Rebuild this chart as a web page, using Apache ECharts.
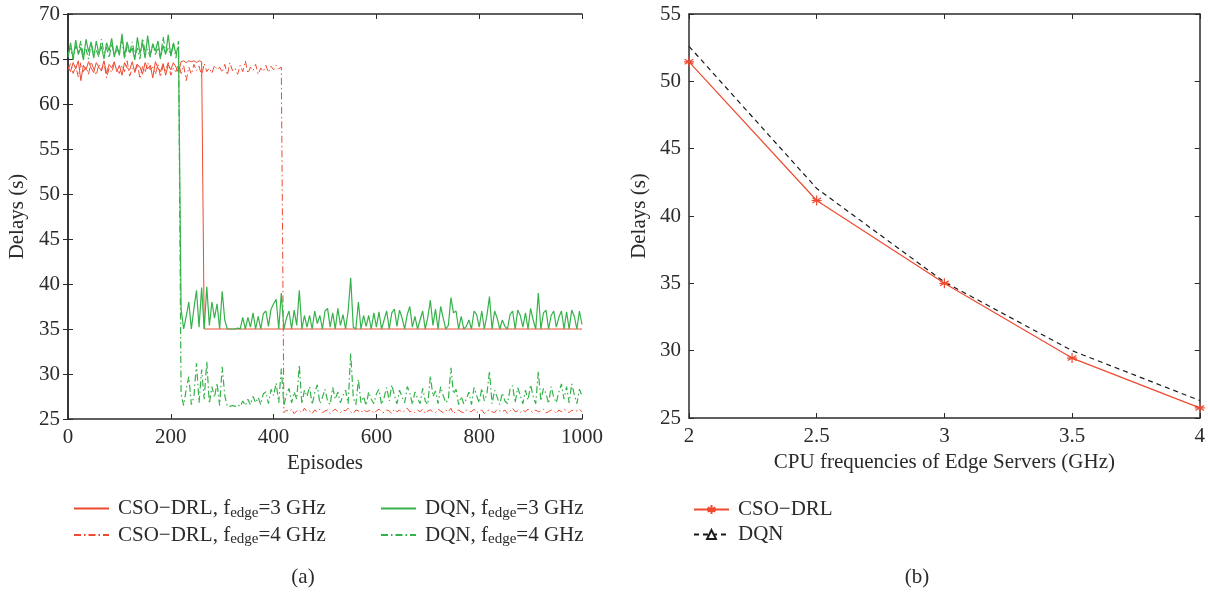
<!DOCTYPE html>
<html>
<head>
<meta charset="utf-8">
<script src="https://cdn.jsdelivr.net/npm/echarts@6/dist/echarts.min.js"></script>
<style>
html, body { margin: 0; padding: 0; background: #fff; }
#chart { width: 1208px; height: 593px; }
</style>
</head>
<body>
<div id="chart"></div>
<script>
// (a) delays per episode, one value every 5 episodes (0, 5, ..., 1000)
var csoF3 = [
    64.2, 63.6, 64.6, 63.9, 64.8, 62.6, 64.3, 63.8, 64.7, 64.0,
    63.5, 64.6, 64.1, 63.7, 64.8, 63.4, 64.4, 64.0, 64.7, 63.6,
    64.3, 63.2, 64.6, 64.0, 63.8, 64.7, 63.5, 64.4, 64.1, 63.3,
    64.6, 63.9, 64.3, 62.9, 64.7, 64.0, 63.6, 64.5, 63.2, 64.4,
    63.8, 64.6, 64.1, 63.5, 64.7, 64.8, 64.6, 64.8, 64.7, 64.8,
    64.6, 64.8, 64.7, 35, 35, 35, 35, 35, 35, 35,
    35, 35, 35, 35, 35, 35, 35, 35, 35, 35,
    35, 35, 35, 35, 35, 35, 35, 35, 35, 35,
    35, 35, 35, 35, 35, 35, 35, 35, 35, 35,
    35, 35, 35, 35, 35, 35, 35, 35, 35, 35,
    35, 35, 35, 35, 35, 35, 35, 35, 35, 35,
    35, 35, 35, 35, 35, 35, 35, 35, 35, 35,
    35, 35, 35, 35, 35, 35, 35, 35, 35, 35,
    35, 35, 35, 35, 35, 35, 35, 35, 35, 35,
    35, 35, 35, 35, 35, 35, 35, 35, 35, 35,
    35, 35, 35, 35, 35, 35, 35, 35, 35, 35,
    35, 35, 35, 35, 35, 35, 35, 35, 35, 35,
    35, 35, 35, 35, 35, 35, 35, 35, 35, 35,
    35, 35, 35, 35, 35, 35, 35, 35, 35, 35,
    35, 35, 35, 35, 35, 35, 35, 35, 35, 35,
    35
];
var csoF4 = [
    63.8, 64.5, 63.4, 64.2, 63.0, 64.6, 63.6, 64.1, 63.3, 64.7,
    63.9, 63.2, 64.4, 63.7, 64.6, 62.9, 64.0, 63.5, 64.5, 63.8,
    63.4, 64.3, 63.6, 64.8, 63.1, 64.0, 63.7, 64.5, 62.8, 64.2,
    63.5, 64.6, 63.8, 64.1, 63.3, 64.4, 63.0, 64.3, 63.7, 64.6,
    63.2, 64.0, 63.6, 64.5, 63.4, 64.3, 62.6, 64.1, 63.3, 64.4,
    63.7, 64.2, 63.1, 64.5, 63.6, 64.0, 63.4, 64.3, 63.8, 64.1,
    63.5, 64.4, 63.2, 64.6, 63.7, 64.0, 63.3, 64.3, 63.6, 64.8,
    63.4, 64.1, 63.7, 64.4, 63.3, 64.0, 63.6, 64.3, 63.5, 64.2,
    63.8, 64.3, 63.9, 64.1, 25.7, 26.0, 25.8, 26.1, 25.6, 25.9,
    26.0, 25.7, 26.2, 25.8, 25.9, 25.6, 26.0, 25.8, 26.1, 25.7,
    25.9, 26.0, 25.6, 25.9, 26.1, 25.8, 25.7, 26.0, 25.9, 26.2,
    25.8, 25.6, 26.0, 25.9, 25.7, 26.1, 25.8, 25.9, 26.0, 25.6,
    25.9, 26.1, 25.8, 25.7, 26.0, 25.9, 25.6, 26.1, 25.8, 26.0,
    25.7, 25.9, 26.2, 25.8, 25.9, 25.7, 26.0, 25.8, 26.1, 25.6,
    25.9, 26.0, 25.8, 25.7, 26.1, 25.9, 25.7, 26.0, 25.8, 26.2,
    25.6, 25.9, 26.0, 25.8, 25.7, 26.0, 25.9, 25.8, 26.1, 25.7,
    25.9, 26.0, 25.6, 25.9, 26.0, 25.8, 25.7, 26.1, 25.9, 25.8,
    26.0, 25.6, 25.9, 26.2, 25.8, 25.9, 25.7, 26.0, 25.8, 26.1,
    25.9, 25.7, 26.0, 25.8, 25.9, 26.1, 25.7, 25.8, 26.0, 25.9,
    25.6, 26.0, 25.8, 26.1, 25.9, 25.7, 26.0, 25.8, 25.9, 26.1,
    25.8
];
var dqnF3 = [
    65.2, 66.8, 65.0, 67.1, 65.5, 66.3, 64.9, 67.2, 65.8, 66.9,
    65.1, 67.0, 65.6, 66.4, 65.0, 66.8, 65.9, 67.3, 65.2, 66.5,
    65.4, 67.8, 65.3, 66.9, 65.7, 66.2, 64.9, 67.4, 65.6, 66.8,
    65.1, 67.6, 65.4, 66.6, 65.9, 67.0, 65.2, 66.5, 65.5, 67.7,
    65.3, 66.7, 65.6, 66.4, 37.2, 35, 36.4, 38.0, 35, 37.3,
    39.3, 35.2, 39.6, 35, 39.7, 35.4, 38.0, 36.2, 37.8, 35,
    39.2, 36.0, 35, 35, 35, 35, 35.1, 35, 36.3, 35,
    36.3, 35.2, 36.8, 35, 36.4, 35, 36.7, 37.0, 35.3, 37.2,
    37.8, 38.3, 35, 39.0, 35, 36.2, 37.0, 35, 37.1, 35.4,
    39.3, 35, 36.5, 35.2, 36.5, 35, 37.0, 35.6, 36.5, 35,
    37.0, 37.3, 35.2, 36.8, 35, 37.3, 35.4, 36.6, 35, 37.0,
    40.7, 35.2, 35, 38.0, 35, 36.5, 35.3, 36.5, 35, 36.8,
    35.2, 36.9, 35, 36.0, 37.0, 35, 36.8, 37.2, 35.3, 37.1,
    36.2, 35, 36.6, 37.5, 35.2, 36.4, 35, 36.0, 37.0, 35,
    36.3, 38.2, 35.4, 37.2, 35, 37.5, 36.2, 35, 35.4, 38.5,
    36.8, 37.0, 35, 36.4, 35, 35.3, 36.0, 35, 37.0, 36.6,
    35.2, 37.0, 35, 36.5, 38.6, 35, 37.0, 36.2, 35, 36.0,
    35.3, 35, 36.6, 37.0, 35, 37.1, 36.5, 35.2, 36.8, 35,
    37.3, 36.0, 35, 39.0, 35, 36.8, 37.1, 35, 36.5, 37.0,
    35.2, 36.3, 37.0, 35, 36.9, 35, 37.1, 36.4, 35, 37.0,
    35.5
];
var dqnF4 = [
    65.6, 66.2, 64.9, 66.5, 65.8, 67.0, 65.3, 66.1, 65.0, 66.7,
    65.5, 66.0, 65.2, 67.2, 65.7, 66.3, 65.1, 66.8, 65.4, 66.0,
    65.9, 67.1, 65.0, 66.4, 65.6, 66.9, 65.3, 66.2, 65.0, 67.3,
    65.8, 66.1, 65.2, 66.7, 65.5, 66.3, 65.0, 67.5, 65.7, 66.2,
    65.4, 66.9, 65.1, 67.0, 27.8, 26.5, 28.3, 29.7, 26.6, 27.5,
    31.2, 26.8, 30.5, 27.2, 31.4, 26.7, 28.6, 27.4, 29.0, 26.5,
    30.8, 27.6, 26.4, 26.4, 26.5, 26.4, 26.6, 26.4, 27.0, 26.5,
    27.2, 26.6, 27.5, 26.8, 27.4, 26.6, 27.8, 28.0, 26.7, 28.3,
    27.6, 29.0, 26.8, 30.6, 26.5, 27.7, 28.4, 26.8, 28.0, 27.2,
    31.0, 26.7, 28.2, 27.5, 28.6, 26.6, 27.9, 28.8, 26.7, 27.4,
    28.3, 27.0, 26.6, 28.5, 27.2, 28.0, 26.8, 27.6, 28.2, 26.7,
    32.3, 27.4, 26.6, 29.4, 26.8, 27.5, 26.5, 28.0, 27.2, 26.7,
    27.8, 28.3, 26.6, 27.4, 28.5, 27.0, 28.8, 27.6, 26.7, 28.2,
    27.4, 26.8, 28.6, 27.9, 26.6, 28.0, 27.3, 26.7, 28.4, 27.0,
    26.6, 29.8, 27.5, 28.1, 26.7, 28.6, 27.6, 26.8, 27.2, 30.7,
    27.8, 28.3, 26.6, 27.5, 26.7, 27.2, 28.0, 26.6, 28.5, 27.6,
    26.8, 28.4, 27.0, 27.8, 30.3, 26.7, 28.2, 27.4, 26.6, 27.9,
    27.0, 26.7, 28.3, 28.7, 26.8, 28.5, 27.6, 26.7, 28.2, 27.1,
    28.8, 27.5, 26.7, 30.3, 27.0, 28.4, 27.8, 26.7, 28.6, 27.4,
    26.8, 28.0, 28.9, 27.2, 28.6, 26.8, 28.9, 27.7, 26.7, 28.3,
    27.6
];
var episodes = csoF3.map(function (v, i) { return i * 5; });

// (b) delays vs CPU frequency
var freqs = [2, 2.5, 3, 3.5, 4];
var csoDelay = [51.45, 41.15, 35.0, 29.45, 25.75];
var dqnDelay = [52.6, 42.05, 35.1, 30.0, 26.3];

var RED = '#ee4a30';
var GREEN = '#35b24a';
var AXIS = '#2b2b2b';
var FONT = 'Liberation Serif';
var FS = 21;

var chart = echarts.init(document.getElementById('chart'));

function pairs(xs, ys) {
    return ys.map(function (y, i) { return [xs[i], y]; });
}

function ax(grid, pos, showLabel, min, max, interval, extra) {
    var a = {
        gridIndex: grid,
        type: 'value',
        position: pos,
        min: min, max: max, interval: interval,
        axisLine: {show: true, lineStyle: {color: AXIS, width: 1.5}},
        axisTick: {show: true, inside: true, length: 5, lineStyle: {color: AXIS, width: 1}},
        axisLabel: {
            show: showLabel, color: AXIS, fontFamily: FONT, fontSize: FS, margin: 8,
            formatter: function (v) { return String(v); }
        },
        splitLine: {show: false}
    };
    for (var k in extra) a[k] = extra[k];
    return a;
}

var nameStyle = {color: AXIS, fontFamily: FONT, fontSize: FS};

var DASHDOT = [7, 3, 1.5, 3];

function legendText(name) {
    return name.replace('f_edge', 'f{sub|edge}');
}

function legend(left, data, extra) {
    var l = {
        orient: 'vertical',
        left: left,
        top: 493,
        itemWidth: 35,
        itemHeight: 14,
        itemGap: 4,
        selectedMode: false,
        formatter: legendText,
        data: data,
        textStyle: {
            color: AXIS, fontFamily: FONT, fontSize: FS, padding: [0, 0, 0, 4],
            rich: {sub: {fontFamily: FONT, fontSize: 15, color: AXIS, padding: [9, 0, 0, 0]}}
        }
    };
    for (var k in extra) l[k] = extra[k];
    return l;
}

var noSymbol = {itemStyle: {color: 'rgba(0,0,0,0)', borderWidth: 0}};

var option = {
    animation: false,
    grid: [
        {left: 68, top: 14, width: 514, height: 405},
        {left: 689, top: 14, width: 514, height: 404}
    ],
    xAxis: [
        ax(0, 'bottom', true, 0, 1000, 200, {name: 'Episodes', nameLocation: 'middle', nameGap: 34, nameTextStyle: nameStyle}),
        ax(0, 'top', false, 0, 1000, 200),
        ax(1, 'bottom', true, 2, 4, 0.5, {name: 'CPU frequencies of Edge Servers (GHz)', nameLocation: 'middle', nameGap: 34, nameTextStyle: nameStyle}),
        ax(1, 'top', false, 2, 4, 0.5)
    ],
    yAxis: [
        ax(0, 'left', true, 25, 70, 5, {name: 'Delays (s)', nameLocation: 'middle', nameGap: 40, nameTextStyle: nameStyle}),
        ax(0, 'right', false, 25, 70, 5),
        ax(1, 'left', true, 25, 55, 5, {name: 'Delays (s)', nameLocation: 'middle', nameGap: 39, nameTextStyle: nameStyle}),
        ax(1, 'right', false, 25, 55, 5)
    ],
    legend: [
        legend(68, ['CSO−DRL, f_edge=3 GHz', 'CSO−DRL, f_edge=4 GHz'], noSymbol),
        legend(375, ['DQN, f_edge=3 GHz', 'DQN, f_edge=4 GHz'], noSymbol),
        legend(688, ['CSO−DRL', 'DQN'], {itemHeight: 11, top: 494})
    ],
    graphic: [
        {type: 'text', x: 303, y: 577, style: {text: '(a)', font: FS + 'px "Liberation Serif"', fill: AXIS, align: 'center', verticalAlign: 'middle'}},
        {type: 'text', x: 917, y: 577, style: {text: '(b)', font: FS + 'px "Liberation Serif"', fill: AXIS, align: 'center', verticalAlign: 'middle'}}
    ],
    series: [
        {
            name: 'CSO−DRL, f_edge=3 GHz', type: 'line', xAxisIndex: 0, yAxisIndex: 0,
            symbol: 'none', data: pairs(episodes, csoF3),
            lineStyle: {color: RED, width: 1}, itemStyle: {color: RED}
        },
        {
            name: 'CSO−DRL, f_edge=4 GHz', type: 'line', xAxisIndex: 0, yAxisIndex: 0,
            symbol: 'none', data: pairs(episodes, csoF4),
            lineStyle: {color: RED, width: 1, type: DASHDOT}, itemStyle: {color: RED}
        },
        {
            name: 'DQN, f_edge=3 GHz', type: 'line', xAxisIndex: 0, yAxisIndex: 0,
            symbol: 'none', data: pairs(episodes, dqnF3),
            lineStyle: {color: GREEN, width: 1.2}, itemStyle: {color: GREEN}
        },
        {
            name: 'DQN, f_edge=4 GHz', type: 'line', xAxisIndex: 0, yAxisIndex: 0,
            symbol: 'none', data: pairs(episodes, dqnF4),
            lineStyle: {color: GREEN, width: 1.2, type: DASHDOT}, itemStyle: {color: GREEN}
        },
        {
            name: 'DQN', type: 'line', xAxisIndex: 2, yAxisIndex: 2,
            symbol: 'emptyTriangle', showSymbol: false, data: pairs(freqs, dqnDelay),
            lineStyle: {color: '#1a1a1a', width: 1.2, type: [5, 4]}, itemStyle: {color: '#1a1a1a'}
        },
        {
            name: 'CSO−DRL', type: 'line', xAxisIndex: 2, yAxisIndex: 2,
            symbol: 'path://M0,-1L0,1M-0.87,-0.5L0.87,0.5M-0.87,0.5L0.87,-0.5M-1,0L1,0',
            symbolSize: 10, data: pairs(freqs, csoDelay),
            lineStyle: {color: RED, width: 1.2},
            itemStyle: {color: RED, borderColor: RED, borderWidth: 1.2}
        }
    ]
};

chart.setOption(option);
</script>
</body>
</html>
